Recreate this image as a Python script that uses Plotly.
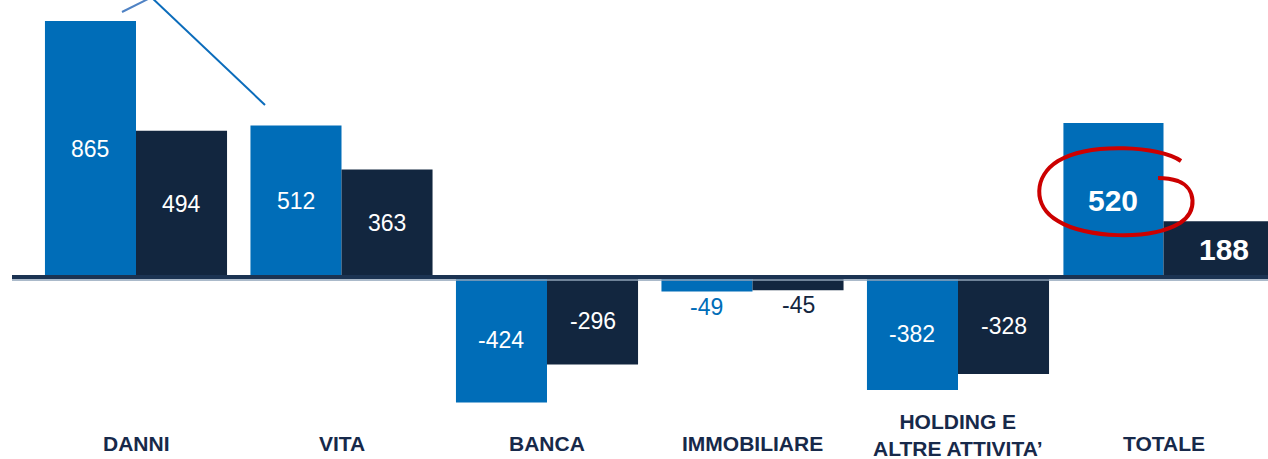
import plotly.graph_objects as go

# ---------------- data ----------------
categories = ["DANNI", "VITA", "BANCA", "IMMOBILIARE", "HOLDING E<br>ALTRE ATTIVITA’", "TOTALE"]
values_first = [865, 512, -424, -49, -382, 520]
values_second = [494, 363, -296, -45, -328, 188]

# ---------------- styling / layout constants ----------------
W, H = 1268, 459
LIGHT = "#006db8"
DARK = "#12263f"
LABEL = "#17294a"
FONT = "Liberation Sans, Arial, sans-serif"

px_per_cat = 205.5          # horizontal pixels per category
first_center_px = 136.0     # pixel of category 0 (boundary between its two bars)
zero_px = 277.0             # pixel row of the zero line
px_per_unit = 0.296         # vertical pixels per value unit

x_range = [-first_center_px / px_per_cat, (W - first_center_px) / px_per_cat]
y_range = [-(H - zero_px) / px_per_unit, zero_px / px_per_unit]

n = len(categories)
xs = list(range(n))
w_first = [0.443] * (n - 1) + [0.487]
w_second = [0.443] * (n - 1) + [0.584]
off_first = [-w for w in w_first]
off_second = [0.0] * n

fig = go.Figure()
fig.add_trace(go.Bar(x=xs, y=values_first, width=w_first, offset=off_first,
                     marker=dict(color=LIGHT, line=dict(width=0)), name="A",
                     showlegend=False, hoverinfo="skip"))
fig.add_trace(go.Bar(x=xs, y=values_second, width=w_second, offset=off_second,
                     marker=dict(color=DARK, line=dict(width=0)), name="B",
                     showlegend=False, hoverinfo="skip"))

annotations = []
for i in xs:
    total = (i == n - 1)
    fsize = 30 if total else 23
    for vals, offs, ws, col in ((values_first, off_first, w_first, LIGHT),
                                (values_second, off_second, w_second, DARK)):
        v = vals[i]
        txt = f"<b>{v}</b>" if total else f"{v}"
        xc = i + offs[i] + ws[i] / 2
        fits = abs(v) * px_per_unit >= fsize * 0.9
        if fits:
            annotations.append(dict(x=xc, y=v / 2, xref="x", yref="y",
                                    text=txt, showarrow=False, xanchor="center", yanchor="middle",
                                    font=dict(family=FONT, size=fsize, color="white")))
        else:
            # bar too short to hold its label: put the label just past the bar end
            annotations.append(dict(x=xc, y=v, xref="x", yref="y",
                                    text=txt, showarrow=False, xanchor="center",
                                    yanchor="top" if v < 0 else "bottom",
                                    font=dict(family=FONT, size=fsize, color=col)))
    # category label
    two_lines = "<br>" in categories[i]
    annotations.append(dict(x=i, y=1 - (435 if two_lines else 443) / H, xref="x", yref="paper",
                            text=f"<b>{categories[i]}</b>", showarrow=False,
                            xanchor="center", yanchor="middle",
                            font=dict(family=FONT, size=21, color=LABEL)))


def P(x, y):
    return f"{x / W:.5f},{1 - y / H:.5f}"


ellipse_path = (
    f"M {P(1181,161)} "
    f"C {P(1160,146)} {P(1090,142)} {P(1058,161)} "
    f"C {P(1034,176)} {P(1032,206)} {P(1058,221)} "
    f"C {P(1085,238)} {P(1150,241)} {P(1180,223)} "
    f"C {P(1198,211)} {P(1196,188)} {P(1178,181)} "
    f"C {P(1172,179)} {P(1165,178)} {P(1158,178)}"
)

shapes = [
    # zero line
    dict(type="line", xref="paper", yref="y", x0=12 / W, x1=1, y0=0, y1=0,
         line=dict(color="#1b3352", width=4), layer="above"),
    dict(type="line", xref="paper", yref="y", ysizemode="pixel", yanchor=0,
         x0=12 / W, x1=1, y0=-3, y1=-3,
         line=dict(color="#8fa3b8", width=1.5), layer="above"),
    # callout pointer lines (partly cut by the top edge)
    dict(type="line", xref="paper", yref="paper", x0=122 / W, y0=1 - 12 / H, x1=152 / W, y1=1 + 3 / H,
         line=dict(color="#4f82c4", width=2)),
    dict(type="line", xref="paper", yref="paper", x0=150 / W, y0=1 + 4 / H, x1=265 / W, y1=1 - 105 / H,
         line=dict(color="#0b6cbb", width=2)),
    # hand-drawn red ring around the total
    dict(type="path", xref="paper", yref="paper", path=ellipse_path,
         line=dict(color="#cc0000", width=4), layer="above"),
]

fig.update_layout(
    width=W, height=H,
    margin=dict(l=0, r=0, t=0, b=0),
    paper_bgcolor="white", plot_bgcolor="white",
    barmode="overlay",
    xaxis=dict(range=x_range, visible=False, showgrid=False, zeroline=False),
    yaxis=dict(range=y_range, visible=False, showgrid=False, zeroline=False),
    annotations=annotations,
    shapes=shapes,
    showlegend=False,
)

fig.write_html("out.html", config={"displayModeBar": False},
               post_script="document.body.style.margin='0';document.body.style.overflow='hidden';")
